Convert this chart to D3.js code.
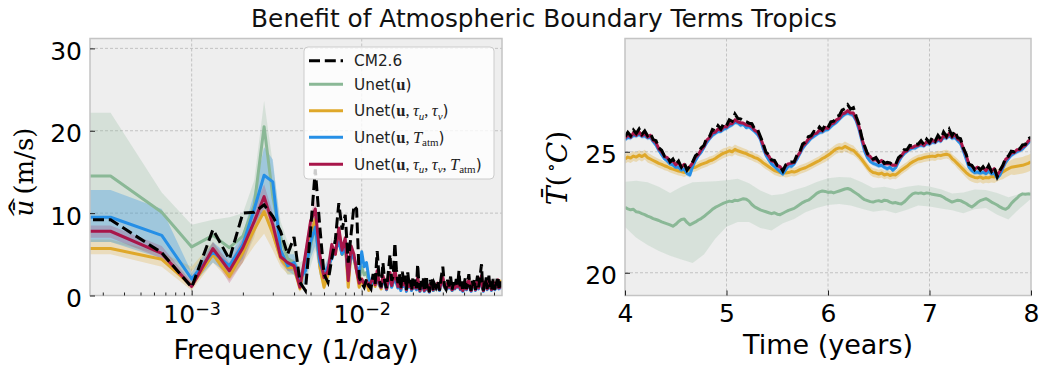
<!DOCTYPE html>
<html><head><meta charset="utf-8">
<script src="https://cdn.jsdelivr.net/npm/d3@7"></script>
<style>body{margin:0;background:#fff}</style>
</head><body><svg id="chart" width="1048" height="368"></svg>
<script>
// ---------------- DATA ----------------
const titleText = "Benefit of Atmospheric Boundary Terms Tropics";
const seriesLabels = ["CM2.6", "Unet(u)", "Unet(u,τu,τv)", "Unet(u,Tatm)", "Unet(u,τu,τv,Tatm)"];
const seriesColors = ["#000000", "#8ab896", "#dfa82a", "#258fe6", "#a8164a"];

// Spectrum: frequency bins k / recordDays (k = 0 is clipped on the log axis)
const specRecordDays = 3000;
const specK = d3.range(0, 81).concat(d3.range(82, 201, 2));
const specCM26 = [
 9.2,
 9.2,5.2,1.0,8.0,4.4,10.0,10.1,11.0,9.6,7.8,
 5.0,7.1,1.6,0.6,7.8,15.3,8.4,2.6,1.6,4.5,
 6.8,11.2,8.0,9.8,4.0,7.5,10.9,10.5,2.2,1.5,
 1.0,2.0,1.2,0.8,2.6,1.4,5.4,2.0,1.0,4.0,
 1.6,0.9,2.8,5.0,1.8,2.4,6.4,3.2,1.5,2.6,
 0.8,2.9,1.6,2.4,0.7,2.8,1.3,1.9,0.6,2.2,
 1.2,2.0,0.9,3.8,1.6,0.7,1.8,1.1,2.2,0.5,
 1.6,2.4,0.9,1.3,0.4,1.9,1.2,2.1,0.6,1.5,
 1.0,1.8,0.6,2.2,3.5,1.2,0.8,1.9,1.1,2.3,
 0.7,1.6,1.0,2.0,1.2,3.0,0.9,1.7,0.5,1.4,
 2.1,0.8,1.5,2.6,1.1,0.6,1.8,1.2,2.0,0.7,
 1.6,2.4,1.0,1.8,2.8,3.8,1.2,0.6,1.9,1.3,
 2.2,0.8,1.5,2.4,1.0,1.7,0.6,1.4,2.0,1.1,
 0.7,1.8,1.2,2.1,2.3,0.9,1.5,1.0,1.7,1.2];
const specUnetU = [
 14.5,
 14.5,10.1,5.9,7.3,5.8,7.2,11.0,20.5,12.0,7.0,
 4.5,4.0,2.5,3.0,6.0,8.5,4.0,2.0,3.0,5.0,
 5.5,7.0,5.0,6.5,2.0,5.0,4.5,3.0,2.0,3.5,
 2.5,2.8,1.6,1.3,2.0,1.4,2.6,1.4,1.0,2.0,
 1.5,0.8,1.8,2.4,1.1,1.7,2.8,1.7,1.0,1.6,
 0.8,1.9,1.2,1.5,0.7,1.8,1.0,1.4,0.7,1.6,
 1.0,1.5,0.8,2.0,1.2,0.6,1.4,0.9,1.7,0.6,
 1.2,1.6,0.8,1.1,0.5,1.3,0.9,1.5,0.6,1.1,
 0.9,1.4,0.7,1.6,2.0,1.1,0.8,1.4,1.0,1.7,
 0.7,1.3,0.9,1.5,1.1,1.9,0.8,1.3,0.6,1.2,
 1.6,0.8,1.3,1.8,1.0,0.6,1.4,1.1,1.5,0.7,
 1.3,1.7,0.9,1.4,1.9,2.2,1.1,0.6,1.5,1.2,
 1.7,0.8,1.3,1.8,1.0,1.4,0.7,1.3,1.6,1.1,
 0.8,1.4,1.1,1.7,1.8,0.9,1.3,1.0,1.5,1.2];
const specUnetTau = [
 5.7,
 5.7,4.4,1.2,5.0,2.3,5.2,8.0,10.2,7.5,4.5,
 3.4,3.4,0.8,4.5,7.5,9.2,3.5,1.0,2.5,5.5,
 5.0,8.0,5.0,6.5,1.0,5.5,4.5,3.0,1.0,2.0,
 1.2,1.6,0.6,1.4,2.0,1.1,2.6,1.3,0.8,2.1,
 1.5,0.7,1.8,2.5,1.1,1.7,2.9,1.8,1.0,1.6,
 0.8,1.9,1.2,1.5,0.6,1.8,1.0,1.4,0.7,1.6,
 0.9,1.5,0.8,2.0,1.2,0.5,1.4,0.9,1.7,0.6,
 1.2,1.6,0.7,1.1,0.5,1.3,0.9,1.5,0.6,1.1,
 0.8,1.4,0.7,1.6,2.0,1.0,0.7,1.4,1.0,1.7,
 0.6,1.2,0.9,1.5,1.0,1.9,0.8,1.3,0.6,1.2,
 1.6,0.8,1.2,1.8,1.0,0.6,1.4,1.0,1.5,0.7,
 1.3,1.7,0.9,1.4,1.9,2.2,1.0,0.6,1.5,1.2,
 1.7,0.8,1.3,1.8,1.0,1.4,0.7,1.3,1.6,1.1,
 0.8,1.4,1.1,1.7,1.8,0.9,1.3,1.0,1.6,1.9];
const specUnetT = [
 9.5,
 9.5,7.3,2.0,5.3,3.6,6.2,10.5,14.6,13.8,5.5,
 3.6,4.0,2.0,3.0,6.5,8.3,4.0,2.5,3.5,4.5,
 5.5,6.5,5.0,6.0,2.5,5.0,4.5,3.5,2.5,5.3,
 3.5,4.0,2.2,1.2,2.0,1.6,2.4,1.3,1.0,2.0,
 1.4,0.7,1.7,2.2,1.0,1.6,2.6,1.5,0.9,1.4,
 0.6,1.8,1.1,1.4,0.5,1.7,1.0,1.3,0.6,1.5,
 0.9,1.4,0.7,1.8,1.1,0.5,1.3,0.9,1.6,0.5,
 1.1,1.5,0.7,1.0,0.4,1.2,0.9,1.4,0.6,1.0,
 0.8,1.3,0.6,1.5,1.9,1.0,0.7,1.3,0.9,1.6,
 0.6,1.2,0.8,1.4,1.0,1.8,0.7,1.2,0.5,1.1,
 1.5,0.7,1.2,1.7,0.9,0.5,1.3,1.0,1.4,0.6,
 1.2,1.6,0.8,1.3,1.8,2.1,1.0,0.5,1.4,1.1,
 1.6,0.7,1.2,1.7,0.9,1.3,0.6,1.2,1.5,1.0,
 0.7,1.3,1.0,1.6,1.7,0.8,1.2,0.9,1.4,1.1];
const specUnetAll = [
 7.8,
 7.8,5.1,1.1,5.7,3.0,5.8,9.0,12.0,8.6,4.7,
 4.0,3.6,1.0,5.0,9.0,10.5,5.0,2.2,3.0,6.2,
 5.0,8.2,5.5,7.0,1.8,6.0,5.0,3.0,1.5,2.0,
 1.4,1.8,1.1,1.6,2.2,1.3,3.0,1.5,1.0,2.4,
 1.7,0.8,2.0,2.8,1.2,1.9,3.2,2.0,1.1,1.8,
 0.9,2.1,1.3,1.7,0.7,2.0,1.1,1.5,0.8,1.7,
 1.0,1.6,0.9,2.2,1.3,0.6,1.5,1.0,1.8,0.6,
 1.3,1.7,0.8,1.2,0.5,1.4,1.0,1.6,0.7,1.2,
 0.9,1.5,0.7,1.7,2.2,1.1,0.8,1.5,1.0,1.8,
 0.7,1.3,0.9,1.6,1.1,2.0,0.8,1.4,0.6,1.2,
 1.7,0.8,1.3,1.9,1.0,0.6,1.5,1.1,1.6,0.7,
 1.4,1.8,0.9,1.5,2.0,2.4,1.1,0.6,1.6,1.2,
 1.8,0.8,1.3,1.9,1.0,1.5,0.7,1.3,1.7,1.1,
 0.8,1.5,1.1,1.8,1.9,0.9,1.4,1.0,1.5,1.2];
// spread envelopes for the first 21 bins (k = 0..20)
const specUnetULo   = [6.5,6.5,5.0,3.0,5.0,2.0,4.0,7.0,12.0,7.0,4.0,2.5,2.5,1.0,1.5,3.5,5.5,2.5,1.0,1.5,3.0];
const specUnetUHi   = [22.2,22.2,12.5,8.6,9.2,9.5,10.0,14.0,23.6,16.0,9.0,6.5,5.5,4.0,4.5,8.0,11.0,5.5,3.0,4.5,6.5];
const specUnetTauLo = [5.0,5.0,3.5,0.6,4.0,1.8,4.0,6.0,7.5,5.5,3.5,2.6,2.6,0.4,3.5,6.0,7.5,2.5,0.6,1.8,4.5];
const specUnetTauHi = [6.8,6.8,5.2,3.5,6.5,3.5,6.5,9.5,11.0,9.0,6.0,4.2,4.2,1.4,5.5,9.0,10.5,4.5,1.6,3.2,6.5];
const specUnetTLo   = [6.5,6.5,4.5,1.2,4.0,2.5,4.5,8.5,10.5,9.5,4.5,3.0,2.5,1.2,1.5,4.5,6.0,2.5,1.5,2.5,3.5];
const specUnetTHi   = [12.8,12.8,10.5,2.8,6.5,4.8,7.5,12.5,18.0,16.5,8.0,5.0,5.0,3.0,4.0,8.0,10.0,5.0,3.5,4.5,5.5];
const specUnetAllLo = [7.0,7.0,4.5,0.8,4.8,1.5,4.0,7.5,10.5,7.0,4.0,3.0,3.0,0.8,4.0,8.0,9.0,4.0,1.0,2.2,5.2];
const specUnetAllHi = [8.5,8.5,6.0,1.6,6.5,4.0,7.0,10.5,13.5,10.0,5.8,4.2,4.4,1.8,6.0,10.0,11.6,6.0,2.8,3.8,7.2];

// Time series: 36 samples per year from year 4 to 8
const tsStart = 4, tsPerYear = 36;
const tsCM26 = [
 25.62,25.80,25.66,25.90,25.76,25.94,25.72,25.86,25.66,25.76,
 25.50,25.46,25.16,25.06,24.82,24.84,24.58,24.70,24.48,24.62,
 24.36,24.54,24.24,24.40,24.58,24.84,24.94,25.16,25.26,25.58,
 25.64,25.92,25.86,26.08,25.94,26.16,26.08,26.32,26.26,26.56,
 26.38,26.36,26.28,26.24,26.18,26.16,25.94,25.92,25.64,25.34,
 24.98,24.88,24.66,24.64,24.44,24.42,24.20,24.46,24.56,24.58,
 24.58,24.86,25.00,25.32,25.40,25.62,25.66,25.84,25.82,26.02,
 25.90,26.10,26.00,26.24,26.26,26.46,26.50,26.72,26.78,26.94,
 26.76,26.82,26.46,26.14,25.60,25.24,24.92,24.86,24.70,24.76,
 24.58,24.70,24.52,24.56,24.54,24.46,24.48,24.76,24.86,25.08,
 25.08,25.26,25.24,25.30,25.32,25.46,25.30,25.52,25.38,25.58,
 25.44,25.68,25.52,25.82,25.64,25.92,25.66,25.86,25.58,25.54,
 25.16,24.90,24.48,24.44,24.26,24.40,24.24,24.38,24.22,24.44,
 24.18,24.34,23.96,24.24,24.44,24.74,24.82,25.02,25.00,25.14,
 25.12,25.28,25.30,25.54,25.60];
const tsUnetAll = [
 25.55,25.70,25.60,25.78,25.68,25.82,25.66,25.76,25.60,25.68,
 25.46,25.38,25.12,25.00,24.80,24.76,24.58,24.62,24.46,24.54,
 24.36,24.48,24.28,24.38,24.54,24.78,24.88,25.08,25.22,25.48,
 25.58,25.78,25.80,25.94,25.88,26.04,26.02,26.16,26.16,26.32,
 26.24,26.20,26.18,26.10,26.08,26.04,25.88,25.82,25.58,25.28,
 24.94,24.82,24.62,24.58,24.42,24.38,24.22,24.42,24.50,24.52,
 24.56,24.80,24.96,25.24,25.34,25.52,25.60,25.74,25.76,25.90,
 25.86,26.00,25.96,26.14,26.18,26.32,26.38,26.56,26.60,26.70,
 26.60,26.60,26.34,26.04,25.54,25.18,24.88,24.80,24.66,24.68,
 24.56,24.64,24.50,24.50,24.50,24.44,24.44,24.70,24.82,25.00,
 25.04,25.18,25.18,25.24,25.26,25.36,25.26,25.42,25.34,25.48,
 25.40,25.56,25.46,25.68,25.58,25.76,25.60,25.72,25.52,25.46,
 25.12,24.86,24.48,24.42,24.28,24.36,24.26,24.34,24.22,24.38,
 24.20,24.30,24.02,24.20,24.40,24.68,24.78,24.96,24.96,25.08,
 25.08,25.20,25.26,25.44,25.50];
const tsUnetT = [
 25.50,25.60,25.58,25.68,25.66,25.72,25.64,25.66,25.58,25.60,
 25.42,25.28,25.06,24.88,24.72,24.62,24.50,24.46,24.36,24.36,
 24.24,24.28,24.10,24.04,24.40,24.64,24.84,24.98,25.18,25.38,
 25.54,25.68,25.76,25.84,25.84,25.94,25.98,26.06,26.12,26.22,
 26.20,26.10,26.14,26.00,26.04,25.94,25.84,25.72,25.52,25.14,
 24.86,24.66,24.50,24.40,24.28,24.18,24.08,24.26,24.42,24.40,
 24.50,24.70,24.92,25.14,25.30,25.42,25.56,25.64,25.72,25.80,
 25.82,25.90,25.92,26.04,26.14,26.22,26.34,26.46,26.56,26.60,
 26.56,26.50,26.28,25.92,25.46,25.02,24.76,24.60,24.52,24.48,
 24.42,24.44,24.36,24.30,24.36,24.24,24.34,24.58,24.78,24.92,
 25.02,25.10,25.16,25.16,25.24,25.28,25.24,25.34,25.32,25.40,
 25.38,25.48,25.44,25.60,25.56,25.66,25.56,25.60,25.46,25.34,
 25.04,24.70,24.36,24.22,24.14,24.16,24.12,24.16,24.10,24.20,
 24.08,24.12,23.92,24.04,24.32,24.56,24.72,24.86,24.94,25.00,
 25.06,25.12,25.24,25.36,25.48];
const tsUnetTau = [
 24.70,24.78,24.74,24.82,24.78,24.86,24.80,24.88,24.76,24.70,
 24.64,24.58,24.52,24.48,24.42,24.38,24.32,24.28,24.24,24.20,
 24.18,24.14,24.20,24.28,24.34,24.36,24.42,24.48,24.52,24.56,
 24.62,24.66,24.72,24.80,24.88,24.94,24.98,25.04,25.00,25.10,
 25.04,25.00,24.96,24.92,24.86,24.82,24.76,24.72,24.64,24.54,
 24.46,24.38,24.30,24.22,24.18,24.14,24.16,24.12,24.14,24.18,
 24.16,24.20,24.26,24.30,24.34,24.40,24.46,24.52,24.58,24.64,
 24.72,24.78,24.86,24.94,25.04,25.12,25.16,25.14,25.22,25.16,
 25.10,25.06,24.94,24.82,24.68,24.52,24.36,24.22,24.14,24.12,
 24.08,24.12,24.04,24.08,24.02,24.06,24.04,24.14,24.24,24.32,
 24.40,24.50,24.58,24.64,24.70,24.72,24.76,24.78,24.80,24.82,
 24.80,24.86,24.84,24.88,24.90,24.86,24.72,24.62,24.50,24.38,
 24.26,24.14,24.04,23.98,23.94,23.92,23.96,23.90,23.94,23.92,
 23.98,23.96,24.02,24.08,24.16,24.24,24.30,24.36,24.38,24.40,
 24.42,24.44,24.48,24.52,24.58];
const tsUnetU = [
 22.70,22.64,22.60,22.62,22.52,22.50,22.44,22.40,22.34,22.30,
 22.24,22.20,22.16,22.10,22.06,22.02,21.98,21.92,22.00,22.12,
 22.20,22.22,22.08,21.98,22.04,22.10,22.18,22.24,22.32,22.42,
 22.52,22.62,22.70,22.76,22.82,22.88,22.92,22.96,22.94,23.00,
 22.98,23.02,23.06,23.04,22.96,22.82,22.72,22.66,22.60,22.56,
 22.52,22.48,22.44,22.48,22.42,22.40,22.46,22.52,22.58,22.62,
 22.66,22.74,22.82,22.90,22.96,23.00,23.08,23.18,23.28,23.34,
 23.38,23.36,23.32,23.34,23.30,23.34,23.38,23.42,23.46,23.48,
 23.44,23.36,23.28,23.20,23.10,23.02,22.98,22.94,22.92,22.96,
 22.98,22.94,23.00,22.98,22.92,22.88,22.90,22.86,22.84,22.92,
 23.04,23.16,23.26,23.30,23.28,23.30,23.26,23.30,23.28,23.24,
 23.22,23.20,23.18,23.12,23.04,22.98,22.92,22.96,23.00,22.98,
 22.92,22.86,22.78,22.72,22.80,22.90,22.98,23.02,23.06,23.00,
 22.92,22.86,22.80,22.72,22.66,22.62,22.70,22.86,22.98,23.08,
 23.20,23.26,23.24,23.26,23.24];
// envelopes sampled 9 per year
const tsBandPerYear = 9;
const tsUnetULo = [21.89,21.45,21.15,20.90,20.70,20.55,20.40,20.75,21.40,21.90,22.10,22.10,21.85,21.75,22.05,22.22,22.50,22.68,22.80,22.84,22.78,22.64,22.52,22.58,22.46,22.60,22.78,22.74,22.66,22.58,22.46,22.62,22.68,22.40,22.20,22.66,23.06];
const tsUnetUHi = [23.76,23.80,23.74,23.55,23.30,23.55,23.74,23.76,23.78,23.82,23.88,23.70,23.40,23.20,23.25,23.42,23.55,23.75,23.90,23.96,23.94,23.74,23.50,23.55,23.45,23.55,23.62,23.56,23.45,23.28,23.32,23.44,23.42,23.30,23.12,23.26,23.36];
const tsUnetTauSpread = [0.2,0.2,0.2,0.18,0.18,0.18,0.18,0.18,0.18,0.2,0.2,0.18,0.18,0.18,0.18,0.18,0.18,0.18,0.2,0.2,0.2,0.18,0.18,0.18,0.18,0.18,0.18,0.18,0.18,0.18,0.2,0.22,0.22,0.25,0.3,0.34,0.35];
const tsUnetTSpread = [0.1,0.1,0.1,0.1,0.1,0.1,0.1,0.1,0.1,0.1,0.1,0.1,0.1,0.1,0.1,0.1,0.1,0.1,0.1,0.1,0.1,0.1,0.1,0.1,0.1,0.1,0.1,0.1,0.1,0.1,0.1,0.1,0.1,0.1,0.1,0.1,0.1];
const tsUnetAllSpread = [0.08,0.08,0.08,0.08,0.08,0.08,0.08,0.08,0.08,0.08,0.08,0.08,0.08,0.08,0.08,0.08,0.08,0.08,0.08,0.08,0.08,0.08,0.08,0.08,0.08,0.08,0.08,0.08,0.08,0.08,0.08,0.08,0.08,0.08,0.08,0.08,0.08];

const specYTicks = [0, 10, 20, 30];
const specXTicks = [1e-3, 1e-2];
const tsXTicks = [4, 5, 6, 7, 8];
const tsYTicks = [20, 25];

// ---------------- DRAW ----------------
const svg = d3.select("#chart");
const SANS = "DejaVu Sans", SERIF = "DejaVu Serif", MATH = "Liberation Serif";
const [cCM, cU, cTau, cT, cAll] = seriesColors;

svg.append("text").attr("x", 544).attr("y", 27).attr("text-anchor", "middle")
  .style("font-family", SANS).style("font-size", "24.8px").attr("fill", "#111").text(titleText);

const xL = d3.scaleLog().domain([2.523e-4, 0.06686]).range([90, 502]);
const yL = d3.scaleLinear().domain([0, 31.2]).range([295.5, 38.5]);
const xR = d3.scaleLinear().domain([4, 8]).range([625, 1031]);
const yR = d3.scaleLinear().domain([19.06, 29.68]).range([295.5, 38.5]);

function panelBase(id, xs, ys, xGrid, yGrid) {
  const [x0, x1] = xs.range(), [yb, yt] = ys.range();
  svg.append("rect").attr("x", x0).attr("y", yt).attr("width", x1 - x0).attr("height", yb - yt).attr("fill", "#eeeeee");
  const g = svg.append("g").attr("stroke", "#b8b8b8").attr("stroke-width", 0.8).attr("stroke-dasharray", "3,2");
  xGrid.forEach(v => g.append("line").attr("x1", xs(v)).attr("x2", xs(v)).attr("y1", yt).attr("y2", yb));
  yGrid.forEach(v => g.append("line").attr("x1", x0).attr("x2", x1).attr("y1", ys(v)).attr("y2", ys(v)));
  svg.append("clipPath").attr("id", id).append("rect").attr("x", x0).attr("y", yt).attr("width", x1 - x0).attr("height", yb - yt);
  return svg.append("g").attr("clip-path", `url(#${id})`);
}
function panelFrame(xs, ys) {
  const [x0, x1] = xs.range(), [yb, yt] = ys.range();
  svg.append("rect").attr("x", x0).attr("y", yt).attr("width", x1 - x0).attr("height", yb - yt)
    .attr("fill", "none").attr("stroke", "#c4c4c4").attr("stroke-width", 1.5);
}
function styleAxis(g) {
  g.select(".domain").remove();
  g.selectAll(".tick line").attr("stroke", "#222").attr("stroke-width", 1);
  g.selectAll(".tick text").attr("fill", "#000").style("font-family", SANS).style("font-size", "25px");
}

// ---- Left panel: spectrum ----
const specFreq = specK.map(k => k / specRecordDays);
const fx = f => f > 0 ? xL(f) : -1e5;
const gL = panelBase("clipL", xL, yL, specXTicks, specYTicks.filter(v => v > 0));
const bandIdx = d3.range(specUnetULo.length);
const specBand = (lo, hi) => d3.area().x(i => fx(specFreq[i])).y0(i => yL(lo[i])).y1(i => yL(hi[i]))(bandIdx);
[[specUnetULo, specUnetUHi, cU, 0.25], [specUnetTauLo, specUnetTauHi, cTau, 0.25],
 [specUnetTLo, specUnetTHi, cT, 0.3], [specUnetAllLo, specUnetAllHi, cAll, 0.2]].forEach(([lo, hi, c, a]) =>
  gL.append("path").attr("d", specBand(lo, hi)).attr("fill", c).attr("fill-opacity", a));
const specLine = d3.line().x((d, i) => fx(specFreq[i])).y(d => yL(d));
[[specUnetU, cU], [specUnetTau, cTau], [specUnetT, cT], [specUnetAll, cAll]].forEach(([v, c]) =>
  gL.append("path").attr("d", specLine(v)).attr("fill", "none").attr("stroke", c).attr("stroke-width", 3).attr("stroke-linejoin", "round"));
gL.append("path").attr("d", specLine(specCM26)).attr("fill", "none").attr("stroke", cCM).attr("stroke-width", 3).attr("stroke-dasharray", "11,4.8");
panelFrame(xL, yL);

const minorL = [];
[1e-4, 1e-3, 1e-2].forEach(dec => d3.range(2, 10).forEach(m => { const v = m * dec; if (v > xL.domain()[0] && v < xL.domain()[1]) minorL.push(v); }));
svg.append("g").attr("transform", "translate(0,295.5)")
  .call(d3.axisBottom(xL).tickValues(minorL).tickSize(-3).tickFormat(() => "")).call(styleAxis);
const axXL = svg.append("g").attr("transform", "translate(0,295.5)")
  .call(d3.axisBottom(xL).tickValues(specXTicks).tickSize(-5).tickPadding(9.5).tickFormat(() => "10")).call(styleAxis);
axXL.selectAll(".tick text").each(function (d) {
  d3.select(this).append("tspan").attr("dy", "-0.42em").style("font-size", "17.5px").text("\u2212" + Math.abs(Math.round(Math.log10(d))));
});
svg.append("g").attr("transform", "translate(90,0)")
  .call(d3.axisLeft(yL).tickValues(specYTicks).tickSize(-5).tickPadding(8).tickFormat(d3.format("d"))).call(styleAxis)
  .selectAll(".tick text").attr("dy", "0.44em");

svg.append("text").attr("x", 296).attr("y", 359).attr("text-anchor", "middle")
  .style("font-family", SANS).style("font-size", "27px").text("Frequency (1/day)");

// left y label: widehat bar u (m/s)
(function () {
  const g = svg.append("g").attr("transform", "translate(24,172) rotate(-90)");
  const t = g.append("text").attr("y", 9).style("font-family", SERIF).style("font-size", "26px");
  t.append("tspan").style("font-style", "italic").text("\u016B");
  t.append("tspan").text("\u2009(m/s)");
  const len = t.node().getComputedTextLength();
  t.attr("x", -len / 2);
  const e = t.node().getExtentOfChar(0);
  g.append("text").attr("x", 0).attr("y", 0).attr("text-anchor", "middle")
    .attr("transform", `translate(${e.x + e.width / 2 + 1},${e.y + 14}) scale(1.5,1)`)
    .style("font-family", SERIF).style("font-size", "20px").text("^");
})();

// ---- Right panel: time series ----
const tsTime = tsCM26.map((d, i) => tsStart + i / tsPerYear);
const bandTime = tsUnetULo.map((d, j) => tsStart + j / tsBandPerYear);
const gR = panelBase("clipR", xR, yR, tsXTicks.slice(1, -1), tsYTicks);
gR.append("path").attr("d", d3.area().x((d, j) => xR(bandTime[j])).y0(d => yR(d)).y1((d, j) => yR(tsUnetUHi[j]))(tsUnetULo))
  .attr("fill", cU).attr("fill-opacity", 0.22);
const tsSpreadBand = (v, s) => d3.area().x((d, i) => xR(tsTime[i]))
  .y0((d, i) => yR(d - s[Math.round(i / 4)])).y1((d, i) => yR(d + s[Math.round(i / 4)]))(v);
[[tsUnetTau, tsUnetTauSpread, cTau, 0.3], [tsUnetT, tsUnetTSpread, cT, 0.3], [tsUnetAll, tsUnetAllSpread, cAll, 0.25]]
  .forEach(([v, s, c, a]) => gR.append("path").attr("d", tsSpreadBand(v, s)).attr("fill", c).attr("fill-opacity", a));
const tsLine = d3.line().x((d, i) => xR(tsTime[i])).y(d => yR(d));
[[tsUnetU, cU], [tsUnetTau, cTau], [tsUnetT, cT], [tsUnetAll, cAll]].forEach(([v, c]) =>
  gR.append("path").attr("d", tsLine(v)).attr("fill", "none").attr("stroke", c).attr("stroke-width", 3).attr("stroke-linejoin", "round"));
gR.append("path").attr("d", tsLine(tsCM26)).attr("fill", "none").attr("stroke", cCM).attr("stroke-width", 3).attr("stroke-dasharray", "11,4.8");
panelFrame(xR, yR);

svg.append("g").attr("transform", "translate(0,295.5)")
  .call(d3.axisBottom(xR).tickValues(tsXTicks).tickSize(-5).tickPadding(9).tickFormat(d3.format("d"))).call(styleAxis);
svg.append("g").attr("transform", "translate(625,0)")
  .call(d3.axisLeft(yR).tickValues(tsYTicks).tickSize(-5).tickPadding(8).tickFormat(d3.format("d"))).call(styleAxis)
  .selectAll(".tick text").attr("dy", "0.44em");
svg.append("text").attr("x", 828).attr("y", 354).attr("text-anchor", "middle")
  .style("font-family", SANS).style("font-size", "27px").text("Time (years)");

// right y label: bar T (°C)
(function () {
  const g = svg.append("g").attr("transform", "translate(557,168) rotate(-90)");
  const t = g.append("text").attr("y", 10).style("font-family", SERIF).style("font-size", "28px");
  t.append("tspan").style("font-style", "italic").text("T\u0304");
  t.append("tspan").text("(");
  t.append("tspan").attr("dy", -10).style("font-size", "18px").text("\u2009\u2218");
  t.append("tspan").attr("dy", 10).style("font-style", "italic").text("C");
  t.append("tspan").text(")");
  const len = t.node().getComputedTextLength();
  t.attr("x", -len / 2);
})();

// ---- Legend ----
(function () {
  const lg = svg.append("g");
  lg.append("rect").attr("x", 304).attr("y", 47).attr("width", 190).attr("height", 132).attr("rx", 4)
    .attr("fill", "#ffffff").attr("fill-opacity", 0.8).attr("stroke", "#cccccc").attr("stroke-width", 1);
  const rowsY = [60.7, 84.3, 110.7, 137.3, 164.3];
  const C = "\u2009";
  const S = (s) => ({ s, f: SANS }), B = (s) => ({ s, f: MATH, w: "bold" }), I = (s) => ({ s, f: MATH, i: true }),
        R = (s) => ({ s, f: MATH }), SubI = (s) => ({ s, f: MATH, i: true, sub: true }), SubR = (s) => ({ s, f: MATH, sub: true });
  const parts = [
    [S("CM2.6")],
    [S("Unet("), B("u"), S(")")],
    [S("Unet("), B("u"), R("," + C), I("τ"), SubI("u"), R("," + C), I("τ"), SubI("v"), S(")")],
    [S("Unet("), B("u"), R("," + C), I("T"), SubR("atm"), S(")")],
    [S("Unet("), B("u"), R("," + C), I("τ"), SubI("u"), R("," + C), I("τ"), SubI("v"), R("," + C), I("T"), SubR("atm"), S(")")]
  ];
  seriesLabels.forEach((lab, r) => {
    const y = rowsY[r];
    const ln = lg.append("line").attr("x1", 309).attr("x2", 343).attr("y1", y).attr("y2", y)
      .attr("stroke", seriesColors[r]).attr("stroke-width", 3);
    if (r === 0) ln.attr("stroke-dasharray", "11,4.8");
    const t = lg.append("text").attr("x", 354).attr("y", y + 5.5).attr("fill", "#222");
    let shifted = false;
    parts[r].forEach(p => {
      const ts = t.append("tspan").text(p.s).style("font-family", p.f).style("font-size", p.sub ? "11px" : (p.f === SANS ? "15.3px" : "16.5px"));
      if (p.w) ts.style("font-weight", p.w);
      if (p.i) ts.style("font-style", "italic");
      if (p.sub && !shifted) { ts.attr("dy", 3.5); shifted = true; }
      else if (!p.sub && shifted) { ts.attr("dy", -3.5); shifted = false; }
    });
  });
})();
</script></body></html>
